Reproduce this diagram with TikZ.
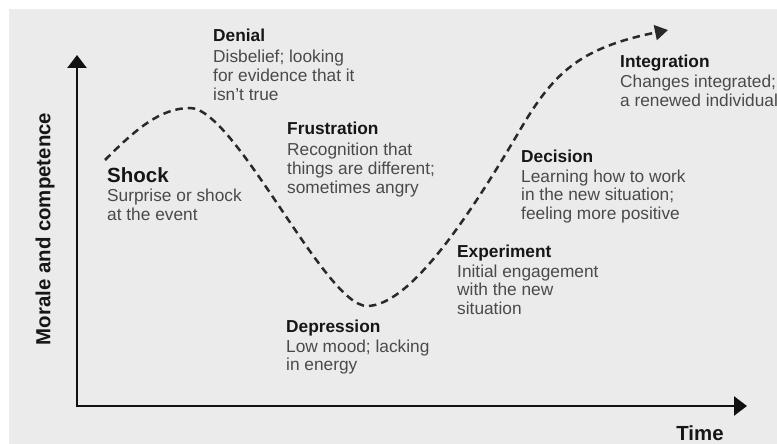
\documentclass[tikz,border=0pt]{standalone}
\usepackage{fontspec}
\setmainfont{Liberation Sans}
\usetikzlibrary{arrows.meta}
\definecolor{bgc}{HTML}{EBEBEB}
\definecolor{bodyc}{HTML}{4A4A4A}
\definecolor{ttlc}{HTML}{161616}
\definecolor{axc}{HTML}{111111}
\newcommand{\ttl}[1]{{\color{ttlc}\bfseries #1}}
\begin{document}
\begin{tikzpicture}[x=1pt,y=-1pt,
  stage/.style={anchor=base west, inner sep=0pt, text=bodyc,
    font=\fontsize{17.3}{18.7}\selectfont},
  axislabel/.style={inner sep=0pt, text=ttlc, font=\fontsize{20.4}{22}\selectfont\bfseries},
  axisline/.style={draw=axc, line width=2.6pt, -{Triangle[width=19pt,length=13pt]}},
  curve/.style={draw=axc!90, line width=2.5pt, dash pattern=on 7.5pt off 5pt,
    -{Triangle[width=15pt,length=13pt]}}]
\useasboundingbox (0,0) rectangle (777,444);
\fill[white] (0,0) rectangle (777,444);
\fill[bgc] (9,9) rectangle (777,444);

% axes
\coordinate (origin) at (77,406);
\coordinate (ytip) at (77,55);
\coordinate (xtip) at (747,406);
\draw[axisline] ([yshift=-1.3pt]origin) -- (ytip);
\draw[axisline] ([xshift=-1.3pt]origin) -- (xtip);
\node[axislabel, rotate=90] (ylab) at (45,229) {Morale and competence};
\node[axislabel, anchor=base] (xlab) at (700,440) {Time};

% curve
\coordinate (c0) at (105,160);
\coordinate (c1) at (190,108);
\coordinate (c2) at (367,306);
\coordinate (c3) at (520,130);
\coordinate (c4) at (668,30);
\draw[curve] (c0) .. controls (135,130) and (160,108) .. (c1)
  .. controls (235,108) and (325,306) .. (c2)
  .. controls (410,306) and (470,215) .. (c3)
  .. controls (554,72) and (580,48) .. (c4);

% stage labels
\node[stage] (shock) at (107,182) {\begin{tabular}[t]{@{}l@{}}\ttl{\fontsize{20.5}{22}\selectfont Shock}\\[1.3pt] Surprise or shock\\ at the event\end{tabular}};
\node[stage] (denial) at (213,42) {\begin{tabular}[t]{@{}l@{}}\ttl{Denial}\\[2pt] Disbelief; looking\\ for evidence that it\\ isn't true\end{tabular}};
\node[stage] (frustration) at (287,135) {\begin{tabular}[t]{@{}l@{}}\ttl{Frustration}\\[2pt] Recognition that\\ things are different;\\ sometimes angry\end{tabular}};
\node[stage] (depression) at (286,332) {\begin{tabular}[t]{@{}l@{}}\ttl{Depression}\\[1.3pt] Low mood; lacking\\ in energy\end{tabular}};
\node[stage] (experiment) at (457,257) {\begin{tabular}[t]{@{}l@{}}\ttl{Experiment}\\[1.3pt] Initial engagement\\ with the new\\ situation\end{tabular}};
\node[stage] (decision) at (521,162) {\begin{tabular}[t]{@{}l@{}}\ttl{Decision}\\[1.3pt] Learning how to work\\ in the new situation;\\ feeling more positive\end{tabular}};
\node[stage] (integration) at (620,68) {\begin{tabular}[t]{@{}l@{}}\ttl{Integration}\\[1.3pt] Changes integrated;\\ a renewed individual\end{tabular}};
\end{tikzpicture}
\end{document}
